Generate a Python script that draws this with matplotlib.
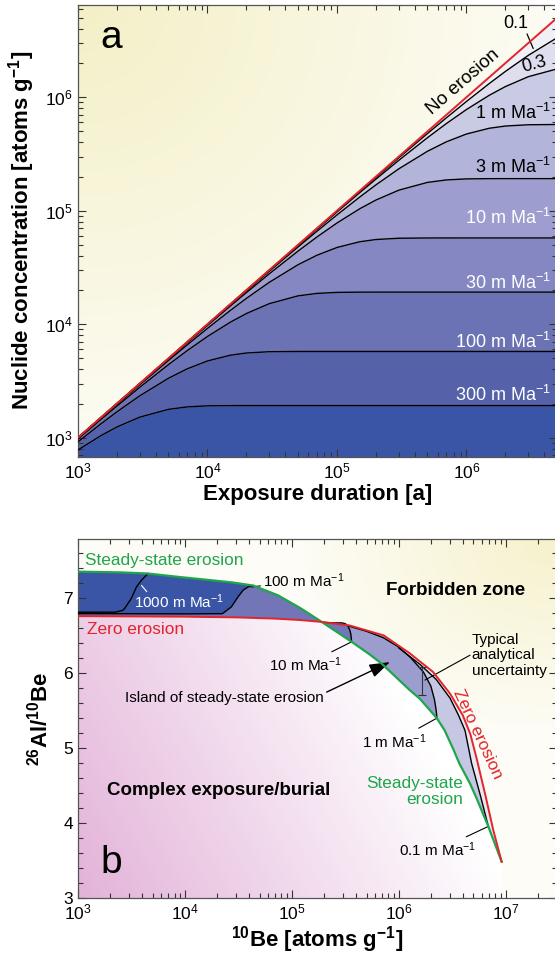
import numpy as np
import matplotlib
matplotlib.use('Agg')
import matplotlib.pyplot as plt
from matplotlib.patches import Polygon
from matplotlib.ticker import MultipleLocator, NullFormatter

plt.rcParams['font.family'] = 'Liberation Sans'
plt.rcParams['mathtext.fontset'] = 'custom'
plt.rcParams['mathtext.rm'] = 'Liberation Sans'
plt.rcParams['mathtext.it'] = 'Liberation Sans:italic'
plt.rcParams['mathtext.bf'] = 'Liberation Sans:bold'
plt.rcParams['mathtext.default'] = 'regular'

# ---------------- panel a: concentration vs exposure duration ----------------
t_exp = [1e3, 1.5e3, 2e3, 3e3, 5e3, 7e3, 1e4, 1.5e4, 2e4, 3e4, 5e4, 7e4,
         1e5, 1.5e5, 2e5, 3e5, 5e5, 7e5, 1e6, 1.5e6, 2e6, 3e6, 5e6]
n_none = [1e3, 1.5e3, 2e3, 3e3, 5e3, 7e3, 1e4, 1.5e4, 2e4, 3e4, 5e4, 7e4,
          1e5, 1.5e5, 2e5, 3e5, 5e5, 7e5, 1e6, 1.5e6, 2e6, 3e6, 5e6]
n_e01 = [1000, 1500, 2000, 2999, 4998, 6996, 9991, 14980, 19970, 29920, 49780, 69580,
         99100, 148100, 196600, 292300, 478900, 659000, 917700, 1320200, 1689400, 2337400, 3340200]
n_e03 = [1000, 1499, 1999, 2998, 4993, 6987, 9974, 14940, 19900, 29770, 49350, 68730,
         97420, 144300, 189900, 277800, 440100, 586400, 779200, 1040400, 1241700, 1516200, 1775700]
n_e1 = [999, 1498, 1997, 2992, 4978, 6958, 9910, 14810, 19660, 29230, 47890, 65900,
        91770, 132020, 168940, 233740, 334020, 404800, 474030, 532680, 557230, 571900, 574900]
n_e3 = [997, 1494, 1990, 2977, 4935, 6873, 9742, 14430, 18990, 27780, 44010, 58640,
        77920, 104040, 124170, 151620, 177570, 186710, 190630, 191590, 191667, 191667, 191667]
n_e10 = [991, 1481, 1966, 2923, 4789, 6590, 9177, 13202, 16894, 23374, 33402, 40480,
         47403, 53268, 55723, 57190, 57490, 57500, 57500, 57500, 57500, 57500, 57500]
n_e30 = [974, 1443, 1899, 2778, 4401, 5864, 7792, 10404, 12417, 15162, 17757, 18671,
         19063, 19159, 19167, 19167, 19167, 19167, 19167, 19167, 19167, 19167, 19167]
n_e100 = [918, 1320, 1689, 2337, 3340, 4048, 4740, 5327, 5572, 5719, 5749, 5750,
          5750, 5750, 5750, 5750, 5750, 5750, 5750, 5750, 5750, 5750, 5750]
n_e300 = [779, 1040, 1242, 1516, 1776, 1867, 1907, 1916, 1917, 1917, 1917, 1917,
          1917, 1917, 1917, 1917, 1917, 1917, 1917, 1917, 1917, 1917, 1917]

curves_a = [n_none, n_e01, n_e03, n_e1, n_e3, n_e10, n_e30, n_e100, n_e300]
layer_colors = ['#f0f0f7', '#dedeee', '#c9cae4', '#b3b4d9', '#9d9ecf',
                '#8487c1', '#6c73b4', '#5562aa', '#3a55a5']

labels_a = ['1 m Ma$^{-1}$', '3 m Ma$^{-1}$', '10 m Ma$^{-1}$', '30 m Ma$^{-1}$',
            '100 m Ma$^{-1}$', '300 m Ma$^{-1}$']
labels_a_y = [7.3e5, 2.45e5, 8.65e4, 2.3e4, 7.0e3, 2.38e3]
labels_a_col = ['black', 'black', 'white', 'white', 'white', 'white']

# ---------------- panel b: 26Al/10Be vs 10Be ----------------
be_red = [1.0e3, 1.0e4, 3.16e4, 7.24e4, 1.20e5, 1.905e5, 3.47e5, 7.24e5, 1.26e6, 2.09e6,
          3.02e6, 3.98e6, 4.68e6, 5.37e6, 6.46e6, 7.67e6, 9.18e6]
ratio_red = [6.752, 6.745, 6.735, 6.718, 6.70, 6.675, 6.628, 6.495, 6.26, 6.01,
             5.72, 5.43, 5.18, 4.85, 4.37, 3.90, 3.48]
be_green = [1.0e3, 2.51e3, 4.52e3, 8.71e3, 1.78e4, 2.82e4, 4.34e4, 7.41e4, 1.20e5, 1.905e5,
            3.63e5, 5.37e5, 6.92e5, 1.26e6, 1.58e6, 2.28e6, 2.69e6, 3.24e6, 3.69e6,
            4.65e6, 5.28e6, 6.89e6, 9.18e6]
ratio_green = [7.345, 7.335, 7.32, 7.275, 7.23, 7.20, 7.16, 7.03, 6.86, 6.675,
               6.41, 6.24, 6.12, 5.77, 5.65, 5.39, 5.23, 4.98, 4.79,
               4.52, 4.345, 3.95, 3.48]

be_1000 = [1.0e3, 2.24e3, 2.63e3, 2.75e3, 3.16e3, 3.52e3, 3.92e3, 4.52e3]
ratio_1000 = [6.805, 6.805, 6.83, 6.86, 6.99, 7.14, 7.23, 7.32]
be_100 = [1.0e3, 1.0e4, 2.24e4, 2.36e4, 2.72e4, 3.14e4, 3.50e4, 3.89e4, 4.34e4]
ratio_100 = [6.785, 6.782, 6.785, 6.808, 6.875, 7.008, 7.097, 7.14, 7.16]
be_10 = [2.0e5, 2.51e5, 2.93e5, 3.16e5, 3.35e5, 3.47e5, 3.56e5, 3.63e5]
ratio_10 = [6.668, 6.662, 6.662, 6.652, 6.62, 6.575, 6.52, 6.41]
be_1 = [3.50e5, 5.01e5, 7.18e5, 1.0e6, 1.28e6, 1.70e6, 2.0e6, 2.16e6, 2.24e6, 2.28e6]
ratio_1 = [6.615, 6.55, 6.465, 6.34, 6.205, 6.01, 5.82, 5.64, 5.50, 5.39]
be_01 = [1.0e6, 1.58e6, 2.24e6, 3.02e6, 3.63e6, 4.17e6, 4.81e6, 5.85e6, 6.89e6]
ratio_01 = [6.33, 6.11, 5.91, 5.66, 5.43, 5.23, 4.79, 4.345, 3.95]

# uncertainty bar
unc_be, unc_ratio, unc_err = 1.64e6, 5.89, 0.19

RED = '#e2242b'
GREEN = '#1fa54b'
DARK = '#3a55a5'

fig = plt.figure(figsize=(5.55, 9.55), dpi=100)
pos_a = [0.1405, 0.5218, 0.8631, 0.4730]
pos_b = [0.1405, 0.0600, 0.8624, 0.3756]

gx, gy = np.meshgrid(np.linspace(0, 1, 300), np.linspace(0, 1, 300))


def shade(weight, rgb):
    w = np.clip(weight, 0, 1)[..., None]
    return 1 - w * (1 - np.array(rgb))


# backgrounds
bg_a = fig.add_axes(pos_a, zorder=-2)
wa = np.clip(1 - np.sqrt(gx ** 2 + (1 - gy) ** 2) / 1.1, 0, 1) * 0.9 + 0.1
bg_a.imshow(shade(wa, (0.955, 0.94, 0.78)), extent=(0, 1, 0, 1), origin='lower', aspect='auto')
bg_a.axis('off')

ax1 = fig.add_axes(pos_a)
ax1.patch.set_visible(False)
ax1.set_xscale('log')
ax1.set_yscale('log')
ax1.set_xlim(1e3, 5e6)
ax1.set_ylim(680, 6.5e6)

for i in range(len(curves_a)):
    lower = curves_a[i + 1] if i + 1 < len(curves_a) else [1.0] * len(t_exp)
    ax1.fill_between(t_exp, lower, curves_a[i], color=layer_colors[i], lw=0, zorder=1)
for c in curves_a[1:]:
    ax1.plot(t_exp, c, color='black', lw=1.0, zorder=3)
ax1.plot(t_exp, n_none, color=RED, lw=1.4, zorder=4)

for txt, y, col in zip(labels_a, labels_a_y, labels_a_col):
    ax1.text(4.5e6, y, txt, ha='right', va='center', fontsize=13, color=col, zorder=5)
ax1.text(9.4e5, 1.36e6, 'No erosion', rotation=41, ha='center', va='center', fontsize=13.5, zorder=5)
ax1.text(2.41e6, 4.45e6, '0.1', ha='center', va='center', fontsize=13, zorder=5)
ax1.annotate('', xy=(3.34e6, 2.55e6), xytext=(2.88e6, 3.8e6),
             arrowprops=dict(arrowstyle='-', color='black', lw=0.9))
ax1.text(3.34e6, 1.94e6, '0.3', rotation=15, ha='center', va='center', fontsize=13, zorder=5)
ax1.text(0.069, 0.926, 'a', transform=ax1.transAxes, ha='center', va='center', fontsize=28)

ax1.set_xlabel('Exposure duration [a]', fontsize=16, fontweight='bold', labelpad=2)
ax1.set_ylabel('Nuclide concentration [atoms g$^{-1}$]', fontsize=16, fontweight='bold', labelpad=6)

# ---------------- panel b ----------------
bg_b = fig.add_axes(pos_b, zorder=-2)
wp = 1.0 - 1.1 * gx - 0.45 * gy
bg_b.imshow(shade(wp, (0.89, 0.70, 0.85)), extent=(0, 1, 0, 1), origin='lower', aspect='auto')
dy = np.sqrt((1 - gx) ** 2 + (1 - gy) ** 2)
wy = np.clip(1 - dy / 0.55, 0, 1) * 0.75 + 0.15
yellow = bg_b.imshow(shade(wy, (0.96, 0.94, 0.78)), extent=(0, 1, 0, 1), origin='lower', aspect='auto')
bg_b.axis('off')

ax2 = fig.add_axes(pos_b)
ax2.patch.set_visible(False)
ax2.set_xscale('log')
ax2.set_xlim(1e3, 3e7)
ax2.set_ylim(3, 7.78)

# forbidden zone outline: above the upper envelope of the two end-member curves
top_pts = [(n, r) for n, r in zip(be_green, ratio_green) if n <= be_green[9]]
top_pts += [(n, r) for n, r in zip(be_red, ratio_red) if n > be_red[5]]
forb = [(be_green[0], 7.78)] + top_pts + [(be_red[-1], 3.0), (3e7, 3.0), (3e7, 7.78)]
yellow.set_clip_path(Polygon(forb, closed=True, transform=ax2.transData))


def left_of(cn, cr):
    pre = [(n, r) for n, r in zip(be_red, ratio_red) if n < cn[0]]
    post = [(n, r) for n, r in zip(be_green, ratio_green) if n < cn[-1]][::-1]
    return np.array(pre + list(zip(cn, cr)) + post)


island = np.array(list(zip(be_red, ratio_red)) + list(zip(be_green, ratio_green))[-2::-1])
ax2.fill(island[:, 0], island[:, 1], color='#e8e8f3', lw=0, zorder=1)
for cn, cr, col in [(be_01, ratio_01, '#c6c7e3'), (be_1, ratio_1, '#9c9dcf'),
                    (be_10, ratio_10, '#7275b6'), (be_100, ratio_100, DARK),
                    (be_1000, ratio_1000, DARK)]:
    poly = left_of(cn, cr)
    ax2.fill(poly[:, 0], poly[:, 1], color=col, lw=0, zorder=1)
    ax2.plot(cn, cr, color='black', lw=1.0, zorder=3)

ax2.plot(be_green, ratio_green, color=GREEN, lw=1.6, zorder=4)
ax2.plot(be_red, ratio_red, color=RED, lw=1.4, zorder=4)
ax2.errorbar([unc_be], [unc_ratio], yerr=[unc_err], color='#333333', lw=0.8,
             capsize=3, capthick=0.8, zorder=5)

fs = 11
fs_big = 12.4
ax2.text(1.16e3, 7.49, 'Steady-state erosion', color=GREEN, fontsize=fs_big, va='center')
ax2.text(1.22e3, 6.57, 'Zero erosion', color=RED, fontsize=fs_big, va='center')
ax2.text(8.9e3, 6.94, '1000 m Ma$^{-1}$', color='white', fontsize=fs, ha='center', va='center', zorder=6)
ax2.annotate('', xy=(3.78e3, 7.19), xytext=(4.57e3, 7.05),
             arrowprops=dict(arrowstyle='-', color='white', lw=0.8), zorder=6)
ax2.annotate('100 m Ma$^{-1}$', xy=(4.18e4, 7.14), xytext=(5.4e4, 7.23), fontsize=fs, va='center',
             arrowprops=dict(arrowstyle='-', color='black', lw=0.8, shrinkA=0, shrinkB=0))
ax2.annotate('10 m Ma$^{-1}$', xy=(3.63e5, 6.41), xytext=(2.93e5, 6.10), fontsize=fs,
             ha='right', va='center',
             arrowprops=dict(arrowstyle='-', color='black', lw=0.8, shrinkA=2, shrinkB=0))
ax2.text(2.75e3, 5.66, 'Island of steady-state erosion', fontsize=fs, va='center')
ax2.annotate('', xy=(8.28e5, 6.14), xytext=(2.12e5, 5.74),
             arrowprops=dict(arrowstyle='-|>,head_length=0.9,head_width=0.3', color='black',
                             lw=1.0, mutation_scale=14, shrinkA=0, shrinkB=0))
ax2.text(4.81e6, 6.23, 'Typical\nanalytical\nuncertainty', fontsize=fs, va='center', ha='left',
         linespacing=1.15)
ax2.annotate('', xy=(1.76e6, 5.90), xytext=(4.65e6, 6.232),
             arrowprops=dict(arrowstyle='-', color='black', lw=0.8, shrinkA=0, shrinkB=0))
ax2.text(3.37e6, 7.10, 'Forbidden zone', fontsize=13.5, fontweight='bold', ha='center', va='center')
ax2.text(5.5e6, 5.18, 'Zero erosion', color=RED, fontsize=fs_big, rotation=-65, ha='center', va='center')
ax2.text(3.99e6, 4.41, 'Steady-state\nerosion', color=GREEN, fontsize=fs_big, ha='right', va='center',
         multialignment='right', linespacing=1.1)
ax2.annotate('1 m Ma$^{-1}$', xy=(2.26e6, 5.39), xytext=(1.83e6, 5.08), fontsize=fs,
             ha='right', va='center',
             arrowprops=dict(arrowstyle='-', color='black', lw=0.8, shrinkA=2, shrinkB=0))
ax2.annotate('0.1 m Ma$^{-1}$', xy=(6.89e6, 3.95), xytext=(5.37e6, 3.635), fontsize=fs,
             ha='right', va='center',
             arrowprops=dict(arrowstyle='-', color='black', lw=0.8, shrinkA=2, shrinkB=0))
ax2.text(1.87e3, 4.43, 'Complex exposure/burial', fontsize=13.5, fontweight='bold', va='center')
ax2.text(0.069, 0.097, 'b', transform=ax2.transAxes, ha='center', va='center', fontsize=28)

ax2.yaxis.set_major_locator(MultipleLocator(1))
ax2.yaxis.set_minor_locator(MultipleLocator(0.2))
ax2.set_xlabel('$^{10}$Be [atoms g$^{-1}$]', fontsize=16, fontweight='bold', labelpad=1)
ax2.set_ylabel('$^{26}$Al/$^{10}$Be', fontsize=16, fontweight='bold', labelpad=8)

for ax in (ax1, ax2):
    ax.tick_params(which='both', direction='in', top=True, right=True, color='#333333',
                   labelsize=12.5, width=0.8)
    ax.tick_params(which='major', length=6)
    ax.tick_params(which='minor', length=3.5)
    for s in ax.spines.values():
        s.set_color('#555555')
        s.set_linewidth(0.9)
ax1.yaxis.set_minor_formatter(NullFormatter())
ax1.xaxis.set_minor_formatter(NullFormatter())
ax2.xaxis.set_minor_formatter(NullFormatter())

fig.savefig('out.png', dpi=100)
